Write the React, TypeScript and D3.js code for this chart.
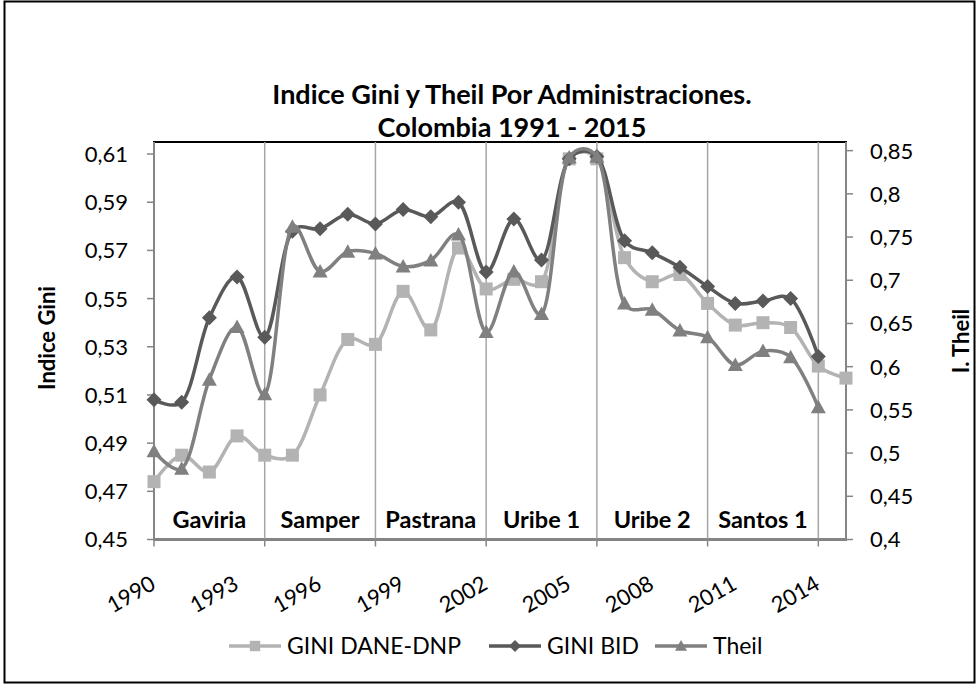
import React from "react";
import * as d3 from "d3";

// años 1990 - 2015
const years = d3.range(1990, 2016);

const giniDane = [
  0.474, 0.485, 0.478, 0.493, 0.485, 0.485, 0.51, 0.533, 0.531, 0.553, 0.537,
  0.571, 0.554, 0.558, 0.557, 0.608, 0.608, 0.567, 0.557, 0.56, 0.548, 0.539,
  0.54, 0.538, 0.522, 0.517,
];
const giniBid = [
  0.508, 0.507, 0.542, 0.559, 0.534, 0.578, 0.579, 0.585, 0.581, 0.587, 0.584,
  0.59, 0.561, 0.583, 0.566, 0.608, 0.609, 0.574, 0.569, 0.563, 0.555, 0.548,
  0.549, 0.55, 0.526, null,
];
const theil = [
  0.502, 0.482, 0.585, 0.646, 0.568, 0.762, 0.71, 0.733, 0.731, 0.716, 0.723,
  0.753, 0.64, 0.71, 0.661, 0.842, 0.843, 0.673, 0.666, 0.642, 0.634, 0.602,
  0.618, 0.611, 0.553, null,
];

const giniTicks = [0.45, 0.47, 0.49, 0.51, 0.53, 0.55, 0.57, 0.59, 0.61];
const theilTicks = [0.4, 0.45, 0.5, 0.55, 0.6, 0.65, 0.7, 0.75, 0.8, 0.85];
const yearLabels = [1990, 1993, 1996, 1999, 2002, 2005, 2008, 2011, 2014];
const termStarts = [1990, 1994, 1998, 2002, 2006, 2010, 2014];
const terms = ["Gaviria", "Samper", "Pastrana", "Uribe 1", "Uribe 2", "Santos 1"];

const FONT = "Lato, 'Open Sans', sans-serif";
const cDane = "#b3b3b3";
const cBid = "#595959";
const cTheil = "#808080";

const fmt = (v: number) => String(+v.toFixed(2)).replace(".", ",");

const square = "M-6.5,-6.5H6.5V6.5H-6.5Z";
const diamond = "M0,-7.5L7.5,0L0,7.5L-7.5,0Z";
const triangle = "M0,-7.5L7.5,6L-7.5,6Z";

export default function App() {
  const left = 154, right = 846, top = 142, bottom = 539.5;

  const x = d3.scalePoint<number>().domain(years).range([left, right]);
  const yG = d3.scaleLinear().domain([0.45, 0.615]).range([bottom, top]);
  const yT = d3.scaleLinear().domain([0.4, 0.86]).range([bottom, top]);

  const mkLine = (y: d3.ScaleLinear<number, number>) =>
    d3
      .line<number | null>()
      .defined((d) => d != null)
      .x((_, i) => x(years[i])!)
      .y((d) => y(d as number))
      .curve(d3.curveCatmullRom.alpha(0.3));

  const series = [
    { name: "GINI DANE-DNP", data: giniDane, y: yG, color: cDane, shape: square },
    { name: "GINI BID", data: giniBid, y: yG, color: cBid, shape: diamond },
    { name: "Theil", data: theil, y: yT, color: cTheil, shape: triangle },
  ];

  const legendX = [229, 489, 655];

  return (
    <svg
      width={979}
      height={684}
      style={{ position: "absolute", left: 0, top: 0, background: "#fff" }}
      fontFamily={FONT}
    >
      <defs>
        <clipPath id="plot">
          <rect x={left} y={top + 1} width={right - left + 10} height={bottom - top} />
        </clipPath>
      </defs>
      <rect x={4.5} y={1.5} width={970} height={681} fill="#fff" stroke="#000" strokeWidth={2} />

      {/* titulo */}
      <text x={512} y={104} textAnchor="middle" fontSize={27} fontWeight="bold">
        Indice Gini y Theil Por Administraciones.
      </text>
      <text x={512} y={137} textAnchor="middle" fontSize={27} fontWeight="bold">
        Colombia 1991 - 2015
      </text>

      {/* area de trazado */}
      <rect x={left} y={top} width={right - left} height={bottom - top} fill="none" stroke="#000" strokeWidth={2} />

      {termStarts.map((yr) => (
        <g key={yr}>
          <line x1={x(yr)} x2={x(yr)} y1={top} y2={bottom} stroke="#a6a6a6" strokeWidth={1.5} />
          <line x1={x(yr)} x2={x(yr)} y1={bottom} y2={bottom + 7} stroke="#868686" strokeWidth={1.5} />
        </g>
      ))}

      {/* ejes */}
      <line x1={left} x2={left} y1={top} y2={bottom} stroke="#868686" strokeWidth={2} />
      <line x1={right} x2={right} y1={top} y2={bottom} stroke="#868686" strokeWidth={2} />
      <line x1={left} x2={right} y1={bottom} y2={bottom} stroke="#868686" strokeWidth={2} />

      {giniTicks.map((t) => (
        <g key={"g" + t}>
          <line x1={left - 7} x2={left} y1={yG(t)} y2={yG(t)} stroke="#868686" strokeWidth={1.5} />
          <text x={128} y={yG(t)} dy="0.36em" textAnchor="end" fontSize={22}>
            {fmt(t)}
          </text>
        </g>
      ))}
      {theilTicks.map((t) => (
        <g key={"t" + t}>
          <line x1={right} x2={right + 7} y1={yT(t)} y2={yT(t)} stroke="#868686" strokeWidth={1.5} />
          <text x={870} y={yT(t)} dy="0.36em" fontSize={22}>
            {fmt(t)}
          </text>
        </g>
      ))}

      {yearLabels.map((yr) => (
        <text
          key={yr}
          transform={`translate(${x(yr)! + 3},${588}) rotate(-30)`}
          textAnchor="end"
          fontSize={22}
        >
          {yr}
        </text>
      ))}

      <text transform="translate(55,338) rotate(-90)" textAnchor="middle" fontSize={22} fontWeight="bold">
        Indice Gini
      </text>
      <text transform="translate(969,341) rotate(-90)" textAnchor="middle" fontSize={22} fontWeight="bold">
        I. Theil
      </text>

      {terms.map((t, i) => (
        <text
          key={t}
          x={(x(termStarts[i])! + x(termStarts[i + 1])!) / 2}
          y={528}
          textAnchor="middle"
          fontSize={23.5}
          fontWeight="bold"
        >
          {t}
        </text>
      ))}

      {/* series */}
      {series.map((s) => (
        <g key={s.name}>
          <path
            d={mkLine(s.y)(s.data) || ""}
            fill="none"
            stroke={s.color}
            strokeWidth={3.5}
            clipPath="url(#plot)"
          />
          {s.data.map((v, i) =>
            v == null ? null : (
              <path key={i} d={s.shape} transform={`translate(${x(years[i])},${s.y(v)})`} fill={s.color} />
            )
          )}
        </g>
      ))}

      {/* leyenda */}
      {series.map((s, i) => (
        <g key={"l" + s.name} transform={`translate(${legendX[i]},646)`}>
          <line x1={0} x2={52} y1={0} y2={0} stroke={s.color} strokeWidth={3.5} />
          <path d={s.shape} transform="translate(26,0) scale(0.8)" fill={s.color} />
          <text x={58} y={0} dy="0.36em" fontSize={23}>
            {s.name}
          </text>
        </g>
      ))}
    </svg>
  );
}
